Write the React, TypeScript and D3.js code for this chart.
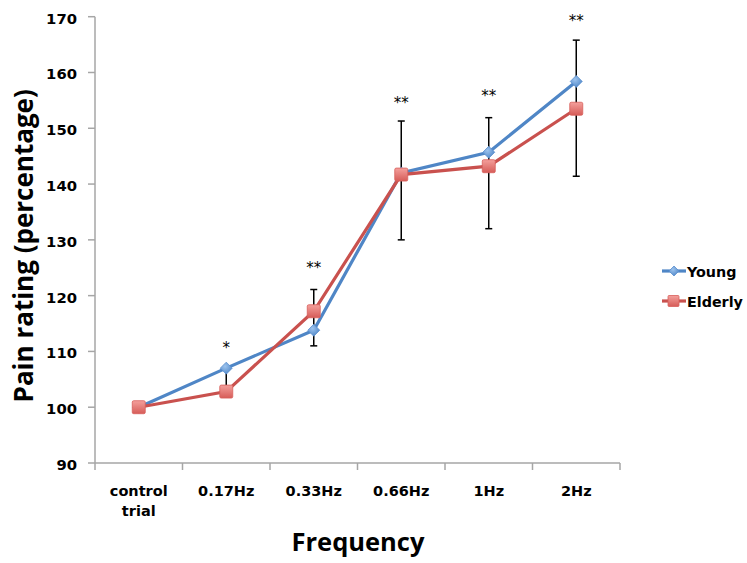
import * as d3 from 'd3';

const categories = ['control\ntrial', '0.17Hz', '0.33Hz', '0.66Hz', '1Hz', '2Hz'];
const young = [100, 107.0, 113.8, 142.0, 145.7, 158.4];
const elderly = [100, 102.8, 117.2, 141.7, 143.2, 153.5];
const errLow = [100, 103.3, 111.0, 130.0, 132.0, 141.4];
const errHigh = [100, 107.0, 121.1, 151.3, 151.9, 165.8];
const stars = ['', '*', '**', '**', '**', '**'];
const starAt = [0, 111.6, 126.0, 155.6, 156.8, 170.2];
const yTicks = [90, 100, 110, 120, 130, 140, 150, 160, 170];

const W = 747;
const H = 563;
const TICK_FONT = '"DejaVu Sans", Verdana, sans-serif';
const TITLE_FONT = '"Open Sans", sans-serif';
const BLUE = '#4f86c6';
const RED = '#c9514e';
const AXIS = '#a6a6a6';

const App = () => {
  const x = d3.scaleBand<string>().domain(categories).range([95, 620]);
  const y = d3.scaleLinear().domain([90, 170]).range([463, 16.7]);
  const cx = (i: number) => (x(categories[i]) as number) + x.bandwidth() / 2;

  const line = d3
    .line<number>()
    .x((_, i) => cx(i))
    .y((d) => y(d));

  const diamond = (px: number, py: number, r: number) =>
    `M${px},${py - r}L${px + r},${py}L${px},${py + r}L${px - r},${py}Z`;

  return (
    <svg width={W} height={H} style={{ position: 'absolute', left: 0, top: 0 }}>
      <defs>
        <radialGradient id="gBlue" cx="40%" cy="35%" r="70%">
          <stop offset="0%" stopColor="#9cc3ee" />
          <stop offset="100%" stopColor="#4f86c6" />
        </radialGradient>
        <linearGradient id="gRed" x1="0" y1="0" x2="0" y2="1">
          <stop offset="0%" stopColor="#f4a09c" />
          <stop offset="100%" stopColor="#d65c58" />
        </linearGradient>
      </defs>
      <rect width={W} height={H} fill="#fff" />

      {/* y axis */}
      <line x1={95} x2={95} y1={y(170)} y2={y(90)} stroke={AXIS} strokeWidth={1.5} />
      {yTicks.map((t) => (
        <g key={t}>
          <line x1={88} x2={95} y1={y(t)} y2={y(t)} stroke={AXIS} strokeWidth={1.5} />
          <text
            x={77}
            y={y(t) + 7}
            textAnchor="end"
            fontFamily={TICK_FONT}
            fontWeight="bold"
            fontSize={14.8}
          >
            {t}
          </text>
        </g>
      ))}

      {/* x axis */}
      <line x1={95} x2={620} y1={463} y2={463} stroke={AXIS} strokeWidth={1.5} />
      {[...categories.map((c) => x(c) as number), 620].map((p, i) => (
        <line key={i} x1={p} x2={p} y1={463} y2={470} stroke={AXIS} strokeWidth={1.5} />
      ))}
      {categories.map((c, i) =>
        c.split('\n').map((part, j) => (
          <text
            key={c + j}
            x={cx(i)}
            y={496 + j * 20}
            textAnchor="middle"
            fontFamily={TICK_FONT}
            fontWeight="bold"
            fontSize={14.5}
          >
            {part}
          </text>
        ))
      )}

      {/* lines */}
      <path d={line(young) || ''} fill="none" stroke={BLUE} strokeWidth={3.2} />
      <path d={line(elderly) || ''} fill="none" stroke={RED} strokeWidth={3.2} />

      {/* error bars */}
      {categories.map((c, i) =>
        errHigh[i] - errLow[i] > 0 ? (
          <g key={c} stroke="#000" strokeWidth={1.5}>
            <line x1={cx(i)} x2={cx(i)} y1={y(errLow[i])} y2={y(errHigh[i])} />
            <line x1={cx(i) - 3.5} x2={cx(i) + 3.5} y1={y(errLow[i])} y2={y(errLow[i])} />
            <line x1={cx(i) - 3.5} x2={cx(i) + 3.5} y1={y(errHigh[i])} y2={y(errHigh[i])} />
          </g>
        ) : null
      )}

      {/* markers */}
      {young.map((v, i) => (
        <path key={'y' + i} d={diamond(cx(i), y(v), 6)} fill="url(#gBlue)" stroke="#5a8fcf" strokeWidth={0.8} />
      ))}
      {elderly.map((v, i) => (
        <rect
          key={'e' + i}
          x={cx(i) - 6.5}
          y={y(v) - 6.5}
          width={13}
          height={13}
          rx={1.5}
          fill="url(#gRed)"
          stroke="#d8605c"
          strokeWidth={0.8}
        />
      ))}

      {/* significance */}
      {stars.map((s, i) =>
        s ? (
          <text
            key={'s' + i}
            x={cx(i)}
            y={y(starAt[i])}
            dy="0.72em"
            textAnchor="middle"
            fontFamily={TICK_FONT}
            fontSize={15}
          >
            {s}
          </text>
        ) : null
      )}

      {/* axis titles */}
      <text
        transform={`translate(33,${(y(170) + y(90)) / 2 + 6}) rotate(-90)`}
        textAnchor="middle"
        fontFamily={TITLE_FONT}
        fontWeight="bold"
        fontSize={26}
      >
        Pain rating (percentage)
      </text>
      <text x={358} y={551} textAnchor="middle" fontFamily={TITLE_FONT} fontWeight="bold" fontSize={25.5}>
        Frequency
      </text>

      {/* legend */}
      {[
        { name: 'Young', color: BLUE, y: 271, shape: 'd' },
        { name: 'Elderly', color: RED, y: 301, shape: 's' },
      ].map((l) => (
        <g key={l.name}>
          <line x1={662} x2={686} y1={l.y} y2={l.y} stroke={l.color} strokeWidth={3.2} />
          {l.shape === 'd' ? (
            <path d={diamond(674, l.y, 5)} fill="url(#gBlue)" stroke="#5a8fcf" strokeWidth={0.8} />
          ) : (
            <rect x={668} y={l.y - 5.5} width={11} height={11} rx={1} fill="url(#gRed)" stroke="#d8605c" strokeWidth={0.8} />
          )}
          <text x={687} y={l.y + 5.5} fontFamily={TICK_FONT} fontWeight="bold" fontSize={14.3}>
            {l.name}
          </text>
        </g>
      ))}
    </svg>
  );
};

export default App;
